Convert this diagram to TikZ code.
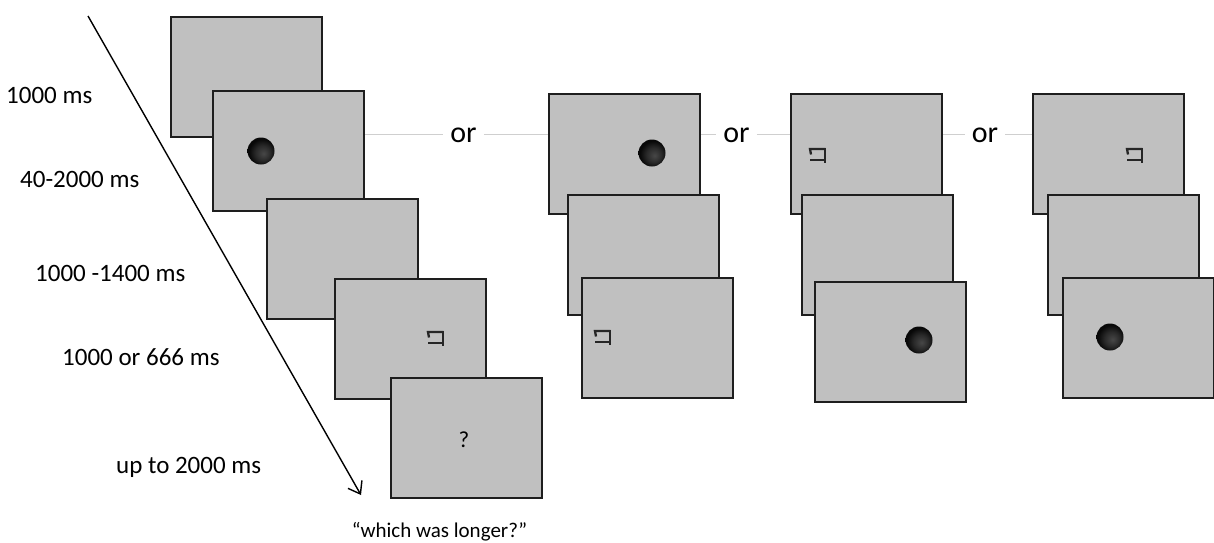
\documentclass[tikz,border=0pt]{standalone}
\usepackage{fontspec}
\setmainfont{Carlito}
\usetikzlibrary{arrows.meta}

\definecolor{screen}{HTML}{C0C0C0}
\definecolor{rim}{HTML}{1E1E1E}
\definecolor{linkgray}{HTML}{CFCFCF}

% dark marker disc, slightly lighter toward the lower right
\pgfdeclareradialshading{orb}{\pgfpoint{5bp}{-5bp}}{%
  color(0bp)=(black!72); color(14bp)=(black!84);
  color(25bp)=(black!97); color(50bp)=(black!97)}

\begin{document}
\begin{tikzpicture}[x=1pt,y=-1pt,
  scr/.style={draw=rim, line width=2pt, fill=screen,
    minimum width=151pt, minimum height=120pt, inner sep=0pt, anchor=north west},
  lbl/.style={font=\fontsize{25}{30}\selectfont, anchor=base west, inner sep=0pt},
  ortext/.style={font=\fontsize{30}{36}\selectfont, inner xsep=7pt, inner ysep=0pt, anchor=base},
  linkline/.style={draw=linkgray, line width=1.2pt},
  disc/.style={circle, minimum size=27pt, inner sep=0pt, shading=orb},
  symb/.pic={
    \draw[line width=2.3pt, black!85, line cap=butt]
      (-7,-0.5) -- (-8,-6) -- (7,-6);
    \draw[line width=2.3pt, black!85] (7,-7.5) -- (7,8);
    \draw[line width=2.3pt, black!85] (-8,5) -- (7,5);
  }
]
\useasboundingbox (0,0) rectangle (1214,542);

% ---- trial sequence (left column) ----
\node[scr] (A) at (170,16) {};
\node[scr] (B) at (212,90) {};
\node[disc] (dB) at (261,151) {};
\node[scr] (C) at (266,198) {};
\node[scr] (D) at (334,278) {};
\pic at (436,338) {symb};
\node[scr] (E) at (390,377) {};
\node[font=\fontsize{23}{27}\selectfont] (q) at (464,440) {?};

% time axis
\coordinate (tstart) at (88,16);
\coordinate (tend) at (361,495);
\draw[line width=1.4pt, -{Straight Barb[length=11pt,width=16pt,line width=1.4pt]}] (tstart) -- (tend);

% durations
\node[lbl] (t1) at (6,103.5) {1000 ms};
\node[lbl] (t2) at (20,187.5) {40-2000 ms};
\node[lbl] (t3) at (35,281.5) {1000 -1400 ms};
\node[lbl] (t4) at (62,365) {1000 or 666 ms};
\node[lbl] (t5) at (116,473) {up to 2000 ms};

\node[font=\fontsize{21}{25}\selectfont, anchor=base] (ask) at (439.5,537) {“which was longer?”};

% ---- alternative orders ----
\node[scr] (P1) at (548,93) {};
\node[disc] (dP) at (652,153) {};
\node[scr] (P2) at (567,194) {};
\node[scr] (P3) at (581,277) {};
\pic at (603,337) {symb};

\node[scr] (Q1) at (790,93) {};
\pic at (818,155) {symb};
\node[scr] (Q2) at (801,194) {};
\node[scr] (Q3) at (814,281) {};
\node[disc] (dQ) at (919,340) {};

\node[scr] (R1) at (1032,93) {};
\pic at (1135,155) {symb};
\node[scr] (R2) at (1047,194) {};
\node[scr] (R3) at (1062,277) {};
\node[disc] (dR) at (1110,337) {};

% "or" links
\node[ortext] (or1) at (463.5,142) {or};
\node[ortext] (or2) at (736.5,142) {or};
\node[ortext] (or3) at (985,142) {or};

\draw[linkline] (B.east |- or1.west) -- (or1.west);
\draw[linkline] (or1.east) -- (P1.west |- or1.east);
\draw[linkline] (P1.east |- or2.west) -- (or2.west);
\draw[linkline] (or2.east) -- (Q1.west |- or2.east);
\draw[linkline] (Q1.east |- or3.west) -- (or3.west);
\draw[linkline] (or3.east) -- (R1.west |- or3.east);
\end{tikzpicture}
\end{document}
